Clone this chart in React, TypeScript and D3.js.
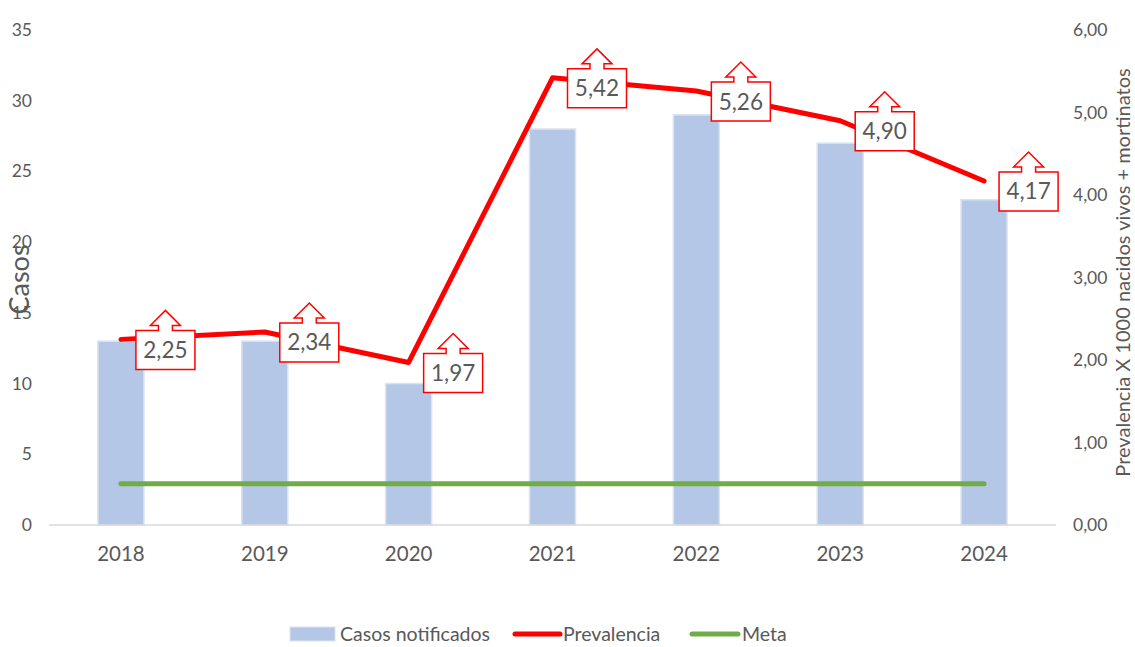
import React, { useEffect, useRef } from "react";
import * as d3 from "d3";

const years = ["2018", "2019", "2020", "2021", "2022", "2023", "2024"];
const casos = [13, 13, 10, 28, 29, 27, 23];
const prevalencia = [2.25, 2.34, 1.97, 5.42, 5.26, 4.9, 4.17];
const meta = [0.5, 0.5, 0.5, 0.5, 0.5, 0.5, 0.5];
const leftTicks = [0, 5, 10, 15, 20, 25, 30, 35];
const rightTicks = [0, 1, 2, 3, 4, 5, 6];

const W = 1135;
const H = 647;
const FONT = "Lato, 'Open Sans', sans-serif";
const GREY = "#595959";

const fmt = (v: number) => v.toFixed(2).replace(".", ",");

const App = () => {
  const ref = useRef<SVGSVGElement>(null);

  useEffect(() => {
    const svg = d3.select(ref.current);
    svg.selectAll("*").remove();

    const margin = { top: 30, bottom: 122, left: 49, right: 79 };

    const x = d3
      .scalePoint<string>()
      .domain(years)
      .range([margin.left, W - margin.right])
      .padding(0.5);
    const step = x.step();
    const barW = step * 0.32;

    const yL = d3.scaleLinear().domain([0, 35]).range([H - margin.bottom, margin.top]);
    const yR = d3.scaleLinear().domain([0, 6]).range([H - margin.bottom, margin.top]);

    const g = svg.append("g").style("font-family", FONT);

    // bars
    g.append("g")
      .selectAll("rect")
      .data(years)
      .join("rect")
      .attr("x", (d) => (x(d) as number) - barW / 2)
      .attr("y", (d, i) => yL(casos[i]))
      .attr("width", barW)
      .attr("height", (d, i) => yL(0) - yL(casos[i]))
      .attr("fill", "#b4c7e7")
      .attr("stroke", "#dae3f3")
      .attr("stroke-width", 1.5);

    // x axis line
    g.append("line")
      .attr("x1", margin.left)
      .attr("x2", W - margin.right)
      .attr("y1", yL(0))
      .attr("y2", yL(0))
      .attr("stroke", "#d9d9d9")
      .attr("stroke-width", 1.5);

    // x labels
    g.append("g")
      .selectAll("text")
      .data(years)
      .join("text")
      .attr("x", (d) => x(d) as number)
      .attr("y", yL(0) + 36)
      .attr("text-anchor", "middle")
      .attr("fill", GREY)
      .style("font-size", "20.5px")
      .text((d) => d);

    // left ticks
    g.append("g")
      .selectAll("text")
      .data(leftTicks)
      .join("text")
      .attr("x", 32)
      .attr("y", (d) => yL(d) + 6)
      .attr("text-anchor", "end")
      .attr("fill", GREY)
      .style("font-size", "17.5px")
      .text((d) => d);

    // right ticks
    g.append("g")
      .selectAll("text")
      .data(rightTicks)
      .join("text")
      .attr("x", 1073)
      .attr("y", (d) => yR(d) + 6)
      .attr("fill", GREY)
      .style("font-size", "17.5px")
      .text((d) => fmt(d));

    // axis titles
    g.append("text")
      .attr("transform", `translate(29,${yL(17.5) + 2}) rotate(-90)`)
      .attr("text-anchor", "middle")
      .attr("fill", GREY)
      .style("font-size", "27px")
      .text("Casos");

    g.append("text")
      .attr("transform", `translate(1130,${yR(3) - 5}) rotate(-90)`)
      .attr("text-anchor", "middle")
      .attr("fill", GREY)
      .style("font-size", "20px")
      .text("Prevalencia X 1000 nacidos vivos + mortinatos");

    // meta line
    const metaLine = d3
      .line<number>()
      .x((d, i) => x(years[i]) as number)
      .y((d) => yR(d));
    g.append("path")
      .attr("d", metaLine(meta))
      .attr("fill", "none")
      .attr("stroke", "#70ad47")
      .attr("stroke-width", 5)
      .attr("stroke-linecap", "round");

    // prevalencia line
    g.append("path")
      .attr("d", metaLine(prevalencia))
      .attr("fill", "none")
      .attr("stroke", "#ff0000")
      .attr("stroke-width", 5)
      .attr("stroke-linecap", "round")
      .attr("stroke-linejoin", "round");

    // callouts
    const bw = 59;
    const bh = 39;
    const callout = g
      .append("g")
      .selectAll("g")
      .data(prevalencia)
      .join("g")
      .attr("transform", (d, i) => `translate(${(x(years[i]) as number) + 15},${yR(d) - 9})`);

    const cx = bw / 2;
    const shape = [
      [0, 0],
      [cx - 7, 0],
      [cx - 7, -5],
      [cx - 15, -5],
      [cx, -20],
      [cx + 15, -5],
      [cx + 7, -5],
      [cx + 7, 0],
      [bw, 0],
      [bw, bh],
      [0, bh],
    ];
    callout
      .append("path")
      .attr("d", "M" + shape.map((p) => p.join(",")).join("L") + "Z")
      .attr("fill", "#ffffff")
      .attr("stroke", "#ff0000")
      .attr("stroke-width", 1.5);
    callout
      .append("text")
      .attr("x", cx)
      .attr("y", bh / 2 + 8)
      .attr("text-anchor", "middle")
      .attr("fill", GREY)
      .style("font-size", "22.5px")
      .text((d) => fmt(d));

    // legend
    const ly = 634;
    const fs = "19.5px";
    const leg = g.append("g");
    leg.append("rect")
      .attr("x", 290)
      .attr("y", ly - 7)
      .attr("width", 45)
      .attr("height", 14)
      .attr("fill", "#b4c7e7")
      .attr("stroke", "#dae3f3");
    leg.append("text")
      .attr("x", 340)
      .attr("y", ly + 7)
      .attr("fill", GREY)
      .style("font-size", fs)
      .text("Casos notificados");
    leg.append("line")
      .attr("x1", 515)
      .attr("x2", 560)
      .attr("y1", ly)
      .attr("y2", ly)
      .attr("stroke", "#ff0000")
      .attr("stroke-width", 5)
      .attr("stroke-linecap", "round");
    leg.append("text")
      .attr("x", 563)
      .attr("y", ly + 7)
      .attr("fill", GREY)
      .style("font-size", fs)
      .text("Prevalencia");
    leg.append("line")
      .attr("x1", 692)
      .attr("x2", 738)
      .attr("y1", ly)
      .attr("y2", ly)
      .attr("stroke", "#70ad47")
      .attr("stroke-width", 5)
      .attr("stroke-linecap", "round");
    leg.append("text")
      .attr("x", 742)
      .attr("y", ly + 7)
      .attr("fill", GREY)
      .style("font-size", fs)
      .text("Meta");
  }, []);

  return (
    <svg
      ref={ref}
      width={W}
      height={H}
      style={{ position: "absolute", left: 0, top: 0, background: "#fff" }}
    />
  );
};

export default App;
